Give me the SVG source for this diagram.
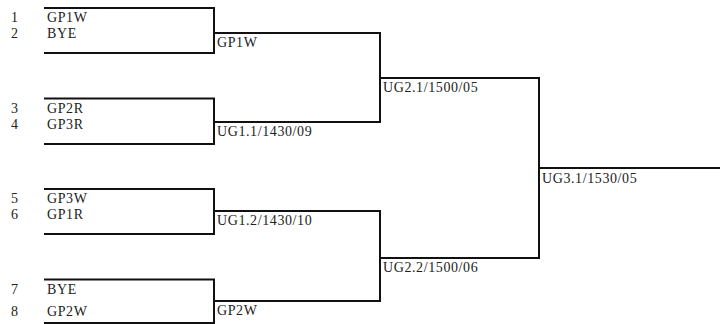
<svg xmlns="http://www.w3.org/2000/svg" width="720" height="324" viewBox="0 0 720 324">
<style>
text{font-family:"Liberation Serif","Times New Roman",serif;font-size:14px;letter-spacing:0.6px;fill:#222}
.br{fill:none;stroke:#111;stroke-width:2}
</style>
<rect width="720" height="324" fill="#fff"/>
<g id="connectors">
<path class="br" d="M44 8H214V53H44"/>
<path class="br" d="M44 98.5H214V144H44"/>
<path class="br" d="M44 189H214V234H44"/>
<path class="br" d="M44 279.5H214V323H44"/>
<path class="br" d="M214 33H380V122H214"/>
<path class="br" d="M214 211H380V301H214"/>
<path class="br" d="M380 78H539V258H380"/>
<path class="br" d="M539 168H720"/>
</g>
<g id="seed1"><text x="11" y="22">1</text><text x="47" y="22">GP1W</text></g>
<g id="seed2"><text x="11" y="38">2</text><text x="47" y="38">BYE</text></g>
<g id="seed3"><text x="11" y="112.5">3</text><text x="47" y="112.5">GP2R</text></g>
<g id="seed4"><text x="11" y="128.5">4</text><text x="47" y="128.5">GP3R</text></g>
<g id="seed5"><text x="11" y="203">5</text><text x="47" y="203">GP3W</text></g>
<g id="seed6"><text x="11" y="219">6</text><text x="47" y="219">GP1R</text></g>
<g id="seed7"><text x="11" y="293.5">7</text><text x="47" y="293.5">BYE</text></g>
<g id="seed8"><text x="11" y="316">8</text><text x="47" y="316">GP2W</text></g>
<g id="m1"><text x="217" y="47">GP1W</text></g>
<g id="m2"><text x="217" y="136">UG1.1/1430/09</text></g>
<g id="m3"><text x="217" y="225">UG1.2/1430/10</text></g>
<g id="m4"><text x="217" y="315">GP2W</text></g>
<g id="m5"><text x="383" y="92">UG2.1/1500/05</text></g>
<g id="m6"><text x="383" y="272">UG2.2/1500/06</text></g>
<g id="m7"><text x="542" y="183">UG3.1/1530/05</text></g>
</svg>
